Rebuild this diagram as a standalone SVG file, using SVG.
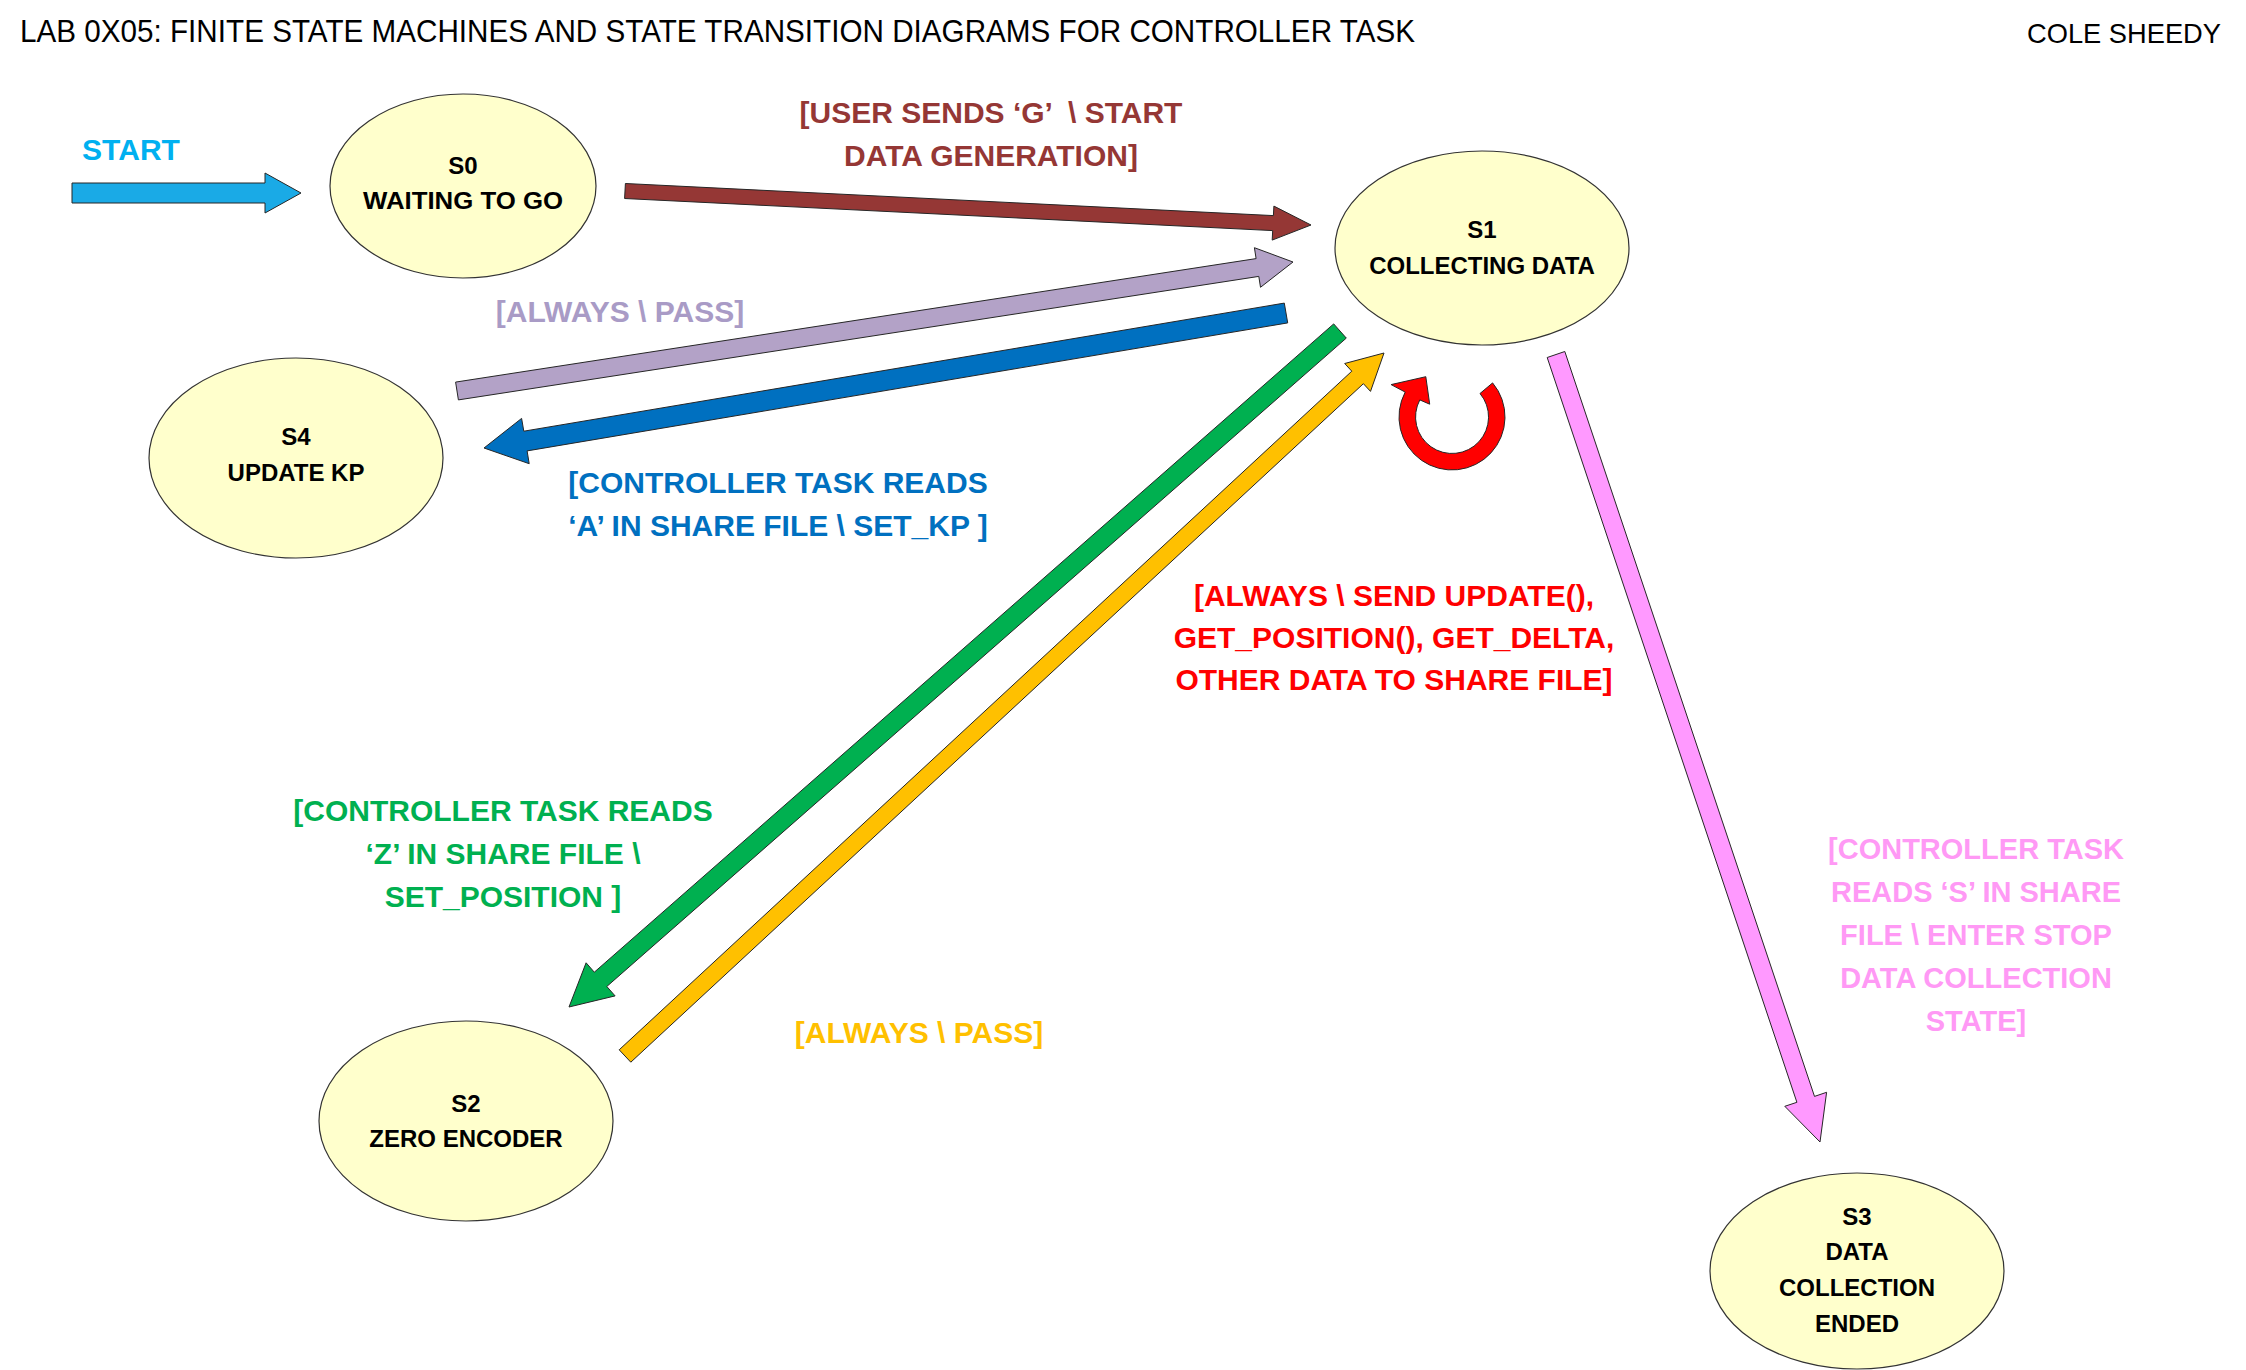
<svg xmlns="http://www.w3.org/2000/svg" width="2246" height="1370" viewBox="0 0 2246 1370">
<style>
.title{font-family:"Liberation Sans",Arial,sans-serif;font-size:31px;fill:#000}
.node ellipse{fill:#FFFFCC;stroke:#333;stroke-width:1.2}
.node text{font-family:"Liberation Sans",Arial,sans-serif;font-weight:bold;font-size:24px;fill:#000;text-anchor:middle}
.lbl{font-family:"Liberation Sans",Arial,sans-serif;font-weight:bold;font-size:30px;text-anchor:middle}
.arr{stroke:#262626;stroke-width:1;stroke-linejoin:miter}
</style>
<rect width="2246" height="1370" fill="#fff"/>
<text class="title" x="20" y="42" textLength="1395" lengthAdjust="spacingAndGlyphs">LAB 0X05: FINITE STATE MACHINES AND STATE TRANSITION DIAGRAMS FOR CONTROLLER TASK</text>
<text class="title" x="2027" y="43" style="font-size:28px" textLength="194" lengthAdjust="spacingAndGlyphs">COLE SHEEDY</text>

<g id="nodes">
<g id="S0" class="node"><ellipse cx="463" cy="186" rx="133" ry="92"/><text x="463" y="174">S0</text><text x="463" y="209" textLength="200" lengthAdjust="spacingAndGlyphs">WAITING TO GO</text></g>
<g id="S1" class="node"><ellipse cx="1482" cy="248" rx="147" ry="97"/><text x="1482" y="238">S1</text><text x="1482" y="274">COLLECTING DATA</text></g>
<g id="S4" class="node"><ellipse cx="296" cy="458" rx="147" ry="100"/><text x="296" y="445">S4</text><text x="296" y="481">UPDATE KP</text></g>
<g id="S2" class="node"><ellipse cx="466" cy="1121" rx="147" ry="100"/><text x="466" y="1112">S2</text><text x="466" y="1147">ZERO ENCODER</text></g>
<g id="S3" class="node"><ellipse cx="1857" cy="1271" rx="147" ry="98"/><text x="1857" y="1225">S3</text><text x="1857" y="1260">DATA</text><text x="1857" y="1296">COLLECTION</text><text x="1857" y="1332">ENDED</text></g>
</g>

<g id="connectors">
<g id="start">
<polygon class="arr" fill="#1AAAE6" points="72,183 265,183 265,173 301,193 265,213 265,203 72,203"/>
<text class="lbl" x="131" y="160" fill="#00B0F0">START</text>
</g>
<g id="s0-s1">
<polygon class="arr" fill="#953735" points="625.4,183.5 1273.4,215.6 1273.9,206.1 1311,225 1272.2,240.1 1272.7,230.6 624.6,198.5"/>
<text class="lbl" fill="#953735" xml:space="preserve"><tspan x="991" y="123">[USER SENDS ‘G’  \ START</tspan><tspan x="991" y="166">DATA GENERATION]</tspan></text>
</g>
<g id="s4-s1">
<polygon class="arr" fill="#B3A2C7" points="455.6,382.1 1256.1,258.6 1254.4,247.7 1293,262 1260.5,287.3 1258.8,276.4 458.4,399.9"/>
<text class="lbl" x="620" y="322" fill="#A99BC6">[ALWAYS \ PASS]</text>
</g>
<g id="s1-s4">
<polygon class="arr" fill="#0070C0" points="1284.3,303.1 523.8,431.2 521.6,418.4 484,448 529.2,463.7 527.1,450.9 1287.7,322.9"/>
<text class="lbl" fill="#0070C0"><tspan x="778" y="493">[CONTROLLER TASK READS</tspan><tspan x="778" y="536">‘A’ IN SHARE FILE \ SET_KP ]</tspan></text>
</g>
<g id="s1-s2">
<polygon class="arr" fill="#00B050" points="1333.7,323.9 594.3,972.2 586.1,962.8 569,1007 615.1,995.9 606.8,986.5 1346.3,338.1"/>
<text class="lbl" fill="#00B050"><tspan x="503" y="821">[CONTROLLER TASK READS</tspan><tspan x="503" y="864">‘Z’ IN SHARE FILE \</tspan><tspan x="503" y="907">SET_POSITION ]</tspan></text>
</g>
<g id="s2-s1">
<polygon class="arr" fill="#FFC000" points="619.2,1049.8 1351.8,371.2 1344.7,363.5 1384,353 1370.5,391.4 1363.4,383.7 630.8,1062.2"/>
<text class="lbl" x="919" y="1043" fill="#FFC000">[ALWAYS \ PASS]</text>
</g>
<g id="s1-s1">
<path class="arr" fill="#FF0000" d="M1492.6,382.9 A53,53 0 1 1 1405.2,392.1 L1391.1,384.6 L1425.8,376.7 L1429.7,404.2 L1419.8,399.9 A36.5,36.5 0 1 0 1480,393.5 Z"/>
<text class="lbl" fill="#FF0000"><tspan x="1394" y="606">[ALWAYS \ SEND UPDATE(),</tspan><tspan x="1394" y="648">GET_POSITION(), GET_DELTA,</tspan><tspan x="1394" y="690">OTHER DATA TO SHARE FILE]</tspan></text>
</g>
<g id="s1-s3">
<polygon class="arr" fill="#FF99FF" points="1547.2,357.5 1796.9,1102.3 1784.8,1106.3 1820,1142 1826.6,1092.3 1814.5,1096.4 1564.8,351.5"/>
<text class="lbl" fill="#FF99F5" style="font-size:29px"><tspan x="1976" y="859">[CONTROLLER TASK</tspan><tspan x="1976" y="902">READS ‘S’ IN SHARE</tspan><tspan x="1976" y="945">FILE \ ENTER STOP</tspan><tspan x="1976" y="988">DATA COLLECTION</tspan><tspan x="1976" y="1031">STATE]</tspan></text>
</g>
</g>
</svg>
